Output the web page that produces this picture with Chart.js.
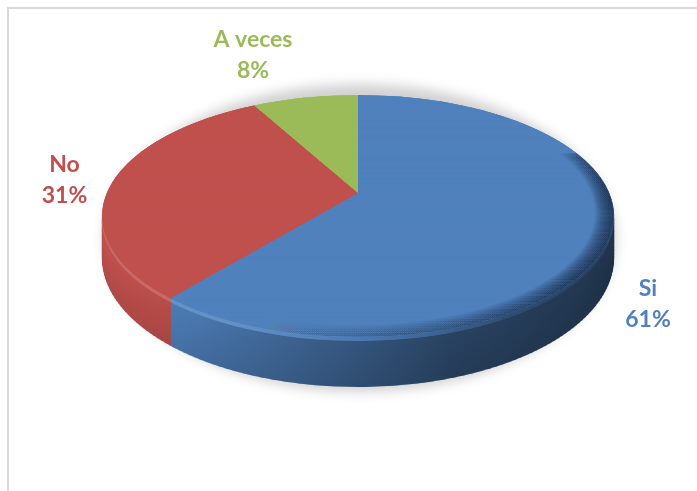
<!DOCTYPE html>
<html>
<head>
<meta charset="utf-8">
<script src="https://cdn.jsdelivr.net/npm/chart.js@4/dist/chart.umd.min.js"></script>
<style>
  html, body { margin: 0; padding: 0; background: #ffffff; }
  #wrap { position: absolute; left: 0; top: 0; width: 697px; height: 491px; overflow: hidden; }
  #frame { position: absolute; left: 7px; top: 7px; width: 720px; height: 520px;
           border-top: 2px solid #d9d9d9; border-left: 2px solid #d9d9d9; }
  #c { position: absolute; left: 0; top: 0; }
</style>
</head>
<body>
<div id="wrap">
  <div id="frame"></div>
  <canvas id="c" width="697" height="491"></canvas>
</div>
<script>
// Survey answers
const categories = ['Si', 'No', 'A veces'];
const shares = [61, 31, 8];
const sliceColors = ['#4f81bd', '#c0504d', '#9bbb59'];

// Camera for the tilted disc: screen centre, radii, perspective strength, thickness
const view = { cx: 358, cy: 193, rx: 251, ry: 116.6, persp: 0.19, depth: 40.5, strips: 200 };

// Label placement (baseline of first line) and text style
const labelStyle = {
  font: 'bold 23px Lato, "Open Sans", sans-serif',
  lineGap: 31,
  anchors: [[648, 296], [64.5, 172], [253, 47]]
};

function rgbOf(hex) {
  const n = parseInt(hex.slice(1), 16);
  return [n >> 16, (n >> 8) & 255, n & 255];
}
function shade(hex, f) {
  let [r, g, b] = rgbOf(hex);
  if (f <= 1) { r *= f; g *= f; b *= f; }
  else { const t = f - 1; r += (255 - r) * t; g += (255 - g) * t; b += (255 - b) * t; }
  return 'rgb(' + Math.round(r) + ',' + Math.round(g) + ',' + Math.round(b) + ')';
}

function drawArcWith(ctx, arc, fill) {
  if (!fill) { arc.draw(ctx); return; }
  const p = Object.create(arc);
  p.options = Object.assign({}, arc.options, { backgroundColor: fill });
  arc.draw.call(p, ctx);
}

// Paints the pie's arc elements onto a perspective-tilted disc, band by band,
// stacking lower copies to build the rim.
const tiltedPie = {
  id: 'tiltedPie',
  beforeDatasetsDraw(chart) {
    const ctx = chart.ctx;
    const arcs = chart.getDatasetMeta(0).data;
    if (!arcs.length) return false;
    const ox = arcs[0].x, oy = arcs[0].y, R = arcs[0].outerRadius;
    const k = view.persp, N = view.strips, W = chart.width;

    const rowY = v => view.cy + view.ry * v / (1 - k * v);

    // soft floor shadow
    ctx.save();
    ctx.filter = 'blur(6px)';
    ctx.fillStyle = 'rgba(0,0,0,0.18)';
    const bottom = rowY(1) + view.depth / (1 - k) + 5;
    ctx.beginPath();
    ctx.ellipse(view.cx + 2, view.cy + 45, view.rx * 1.02, bottom - view.cy - 45, 0, 0, Math.PI * 2);
    ctx.fill();
    ctx.restore();

    // run a painter once per horizontal band, in the disc's own coordinates
    function eachBand(z, vMin, paint) {
      for (let i = 0; i < N; i++) {
        const v0 = -1 + 2 * i / N, v1 = -1 + 2 * (i + 1) / N;
        if (v1 < vMin) continue;
        const y0 = rowY(v0), y1 = rowY(v1);
        const wm = 1 - k * (v0 + v1) / 2;
        const dz = z / wm;
        const sx = view.rx / (wm * R);
        const sy = (y1 - y0) / ((v1 - v0) * R);
        ctx.save();
        ctx.beginPath();
        ctx.rect(0, y0 + dz - 0.6, W, y1 - y0 + 1.2);
        ctx.clip();
        ctx.setTransform(sx, 0, 0, sy, view.cx - sx * ox, y0 - sy * (oy + v0 * R) + dz);
        paint();
        ctx.restore();
      }
    }

    function sideFill(color, frac) {
      const g = ctx.createLinearGradient(ox - R, 0, ox + R, 0);
      let stops;
      if (frac < 0.09) {
        stops = [[0, 1.16], [0.3, 1.12], [0.5, 0.95], [0.75, 0.6], [1, 0.45]];
      } else {
        const d = 1 - 0.1 * frac;
        stops = [[0, 1.03 * d], [0.2, 0.96 * d], [0.4, 0.76 * d], [0.65, 0.52 * d], [1, 0.4 * d]];
      }
      stops.forEach(([t, f]) => g.addColorStop(t, shade(color, f)));
      return g;
    }

    // rim, from the floor up
    const layers = Math.ceil(view.depth / (1 - k));
    for (let L = layers; L >= 1; L--) {
      const frac = L / layers;
      const fills = arcs.map((arc, j) => sideFill(sliceColors[j % sliceColors.length], frac));
      eachBand(view.depth * frac, -0.2, () => arcs.forEach((arc, j) => drawArcWith(ctx, arc, fills[j])));
    }
    // top face
    eachBand(0, -2, () => arcs.forEach(arc => drawArcWith(ctx, arc, null)));

    // rounded edge of the top face, shaded towards the front right
    if (ctx.createConicGradient) {
      const edge = ctx.createConicGradient(-Math.PI / 2, ox, oy);
      edge.addColorStop(0.0, 'rgba(15,30,55,0)');
      edge.addColorStop(0.14, 'rgba(15,30,55,0)');
      edge.addColorStop(0.26, 'rgba(15,30,55,0.05)');
      edge.addColorStop(0.36, 'rgba(15,30,55,0.05)');
      edge.addColorStop(0.48, 'rgba(15,30,55,0.02)');
      edge.addColorStop(0.56, 'rgba(15,30,55,0)');
      edge.addColorStop(1.0, 'rgba(15,30,55,0)');
      for (let s = 0; s < 12; s++) {
        const r = 0.93 + s * 0.0058;
        eachBand(0, -0.35, () => {
          ctx.beginPath();
          ctx.arc(ox, oy, R, 0, Math.PI * 2);
          ctx.arc(ox, oy, R * r, 0, Math.PI * 2, true);
          ctx.fillStyle = edge;
          ctx.fill();
        });
      }
    }
    return false;
  }
};

// Category name and share, in the slice colour
const sliceLabels = {
  id: 'sliceLabels',
  afterDraw(chart) {
    const ctx = chart.ctx;
    const data = chart.data.datasets[0].data;
    const total = data.reduce((a, b) => a + b, 0);
    ctx.save();
    ctx.font = labelStyle.font;
    ctx.textAlign = 'center';
    ctx.textBaseline = 'alphabetic';
    chart.data.labels.forEach((name, i) => {
      const [x, y] = labelStyle.anchors[i];
      ctx.fillStyle = sliceColors[i];
      ctx.fillText(name, x, y);
      ctx.fillText(Math.round(data[i] / total * 100) + '%', x, y + labelStyle.lineGap);
    });
    ctx.restore();
  }
};

new Chart(document.getElementById('c'), {
  type: 'pie',
  data: {
    labels: categories,
    datasets: [{ data: shares, backgroundColor: sliceColors, borderWidth: 0 }]
  },
  options: {
    responsive: false,
    animation: false,
    events: [],
    plugins: { legend: { display: false }, tooltip: { enabled: false } }
  },
  plugins: [tiltedPie, sliceLabels]
});
</script>
</body>
</html>
